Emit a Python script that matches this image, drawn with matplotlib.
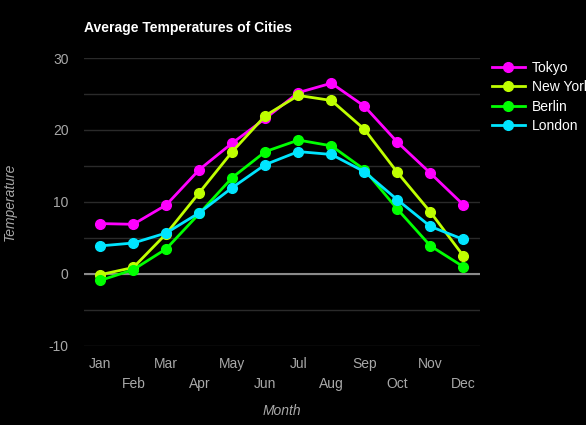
import matplotlib
matplotlib.use("Agg")
import matplotlib.pyplot as plt
from matplotlib.lines import Line2D

plt.rcParams['font.family'] = ['Liberation Sans', 'DejaVu Sans']
plt.rcParams['axes.unicode_minus'] = False

months = ["Jan", "Feb", "Mar", "Apr", "May", "Jun", "Jul", "Aug", "Sep", "Oct", "Nov", "Dec"]
tokyo = [7.0, 6.9, 9.6, 14.5, 18.2, 21.6, 25.2, 26.5, 23.3, 18.3, 14.0, 9.6]
new_york = [-0.1, 0.9, 5.6, 11.3, 17.0, 22.0, 24.8, 24.1, 20.1, 14.1, 8.6, 2.5]
berlin = [-0.9, 0.6, 3.5, 8.4, 13.4, 17.0, 18.6, 17.8, 14.5, 9.0, 3.9, 1.0]
london = [3.9, 4.3, 5.7, 8.5, 12.0, 15.2, 17.0, 16.6, 14.2, 10.3, 6.6, 4.8]

series_names = ["Tokyo", "New York", "Berlin", "London"]
series_values = [tokyo, new_york, berlin, london]
series_colors = ["#ff00ff", "#bfff00", "#00ff00", "#00e5ff"]

fig = plt.figure(figsize=(5.86, 4.25), dpi=100, facecolor="black")
ax = fig.add_axes([0.143, 0.186, 0.676, 0.6775], facecolor="black")

x = list(range(len(months)))
for name, vals, col in zip(series_names, series_values, series_colors):
    ax.plot(x, vals, color=col, lw=2, marker='o', ms=7, label=name, zorder=3)

ax.set_xlim(-0.5, 11.5)
ax.set_ylim(-10, 30)
ax.set_yticks([-10, 0, 10, 20, 30])
ax.set_yticks([-5, 5, 15, 25], minor=True)
ax.grid(True, which='both', axis='y', color='#2a2a2a', lw=1)
ax.axhline(0, color='#8a8a8a', lw=1.5, zorder=2)
for s in ax.spines.values():
    s.set_visible(False)
ax.tick_params(axis='y', which='both', length=0, colors='#a8a8a8', labelsize=10, pad=11)
ax.tick_params(axis='x', length=0, colors='#a8a8a8', labelsize=10, pad=8)
ax.set_xticks(x)
ax.set_xticklabels([m if i % 2 == 0 else "\n" + m for i, m in enumerate(months)], linespacing=1.5)

ax.set_xlabel("Month", color='#a8a8a8', fontsize=10, style='italic', labelpad=10)
ax.set_ylabel("Temperature", color='#a8a8a8', fontsize=10, style='italic')
ax.yaxis.set_label_coords((17 - 84) / 396, 0.5)

fig.text(84 / 586, 1 - 28 / 425, "Average Temperatures of Cities", color='white',
         fontsize=10, fontweight='bold', ha='left', va='center')

handles = [Line2D([0], [0], color=c, lw=2, marker='o', ms=7) for c in series_colors]
leg = fig.legend(handles, series_names, loc='upper left', bbox_to_anchor=(486 / 586, 1 - 55 / 425),
                 frameon=False, fontsize=10, labelcolor='white', handlelength=2.4,
                 labelspacing=0.4, handletextpad=0.5, borderaxespad=0)

fig.savefig("out.png", dpi=100, facecolor="black")
